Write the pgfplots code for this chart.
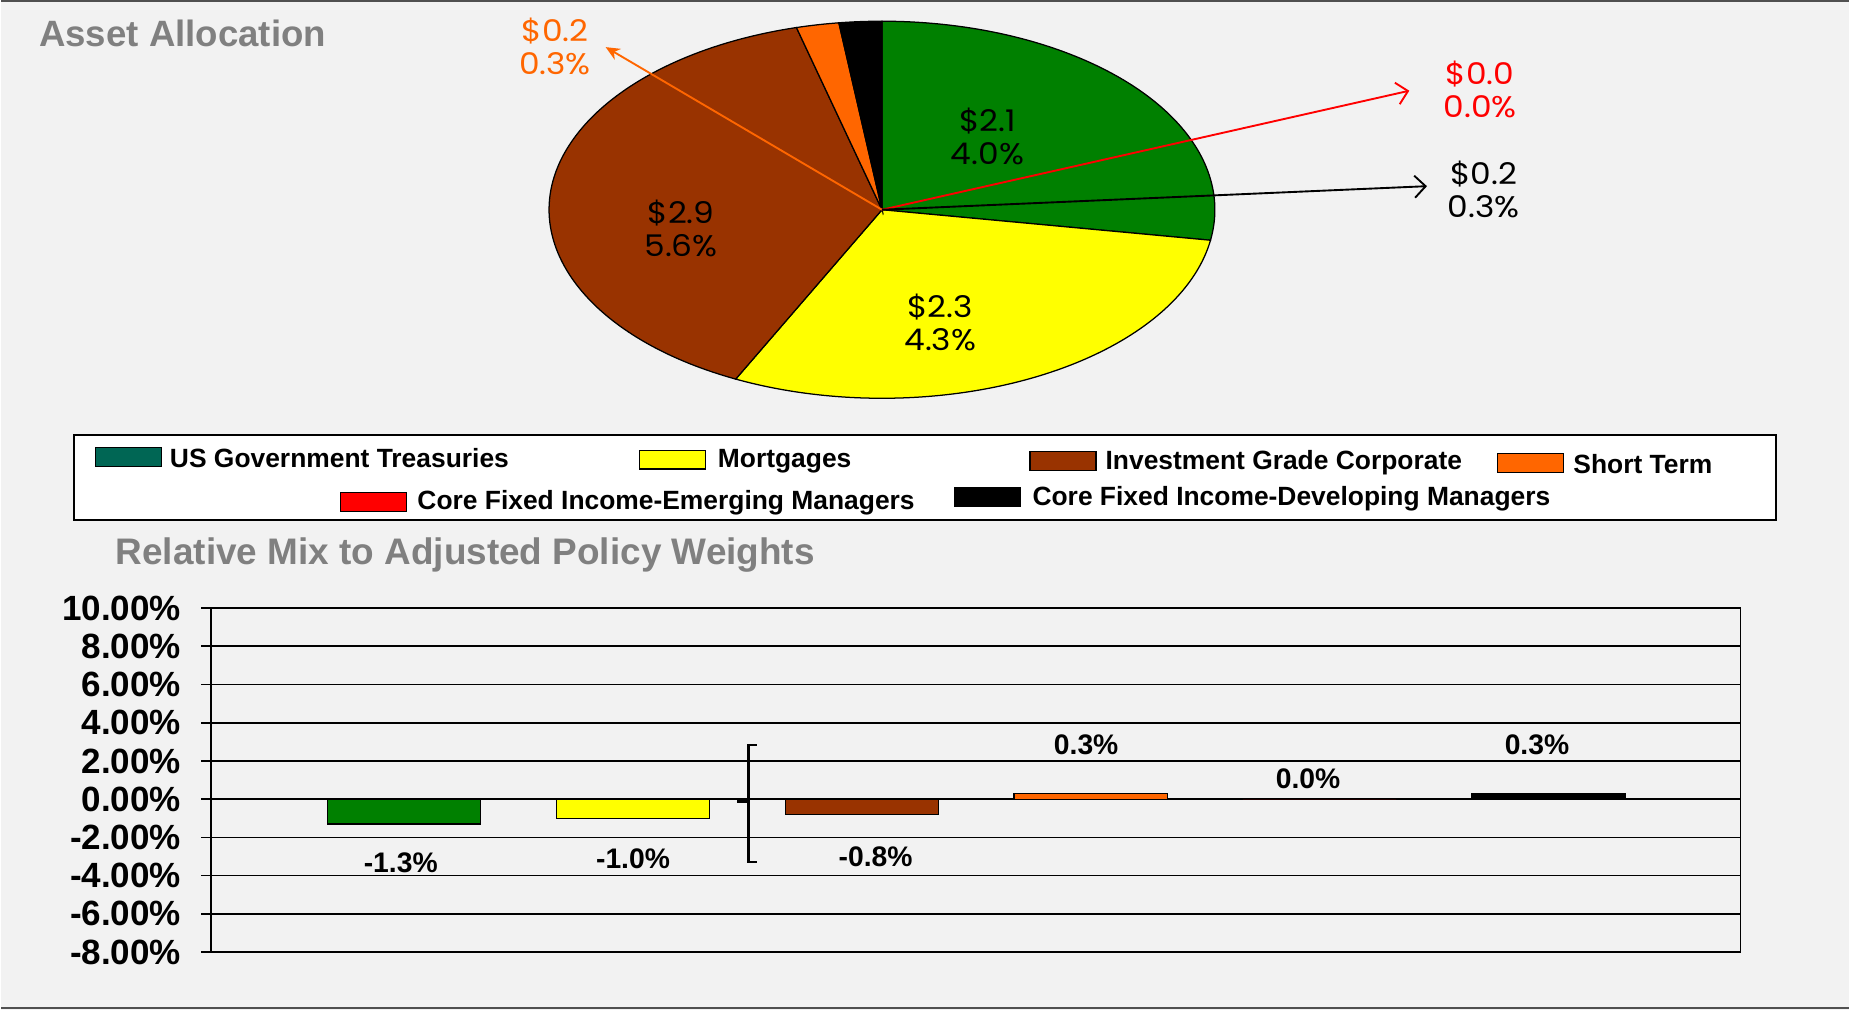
\documentclass[border=0pt]{standalone}
\usepackage{pgfplots}
\pgfplotsset{compat=1.18}
\usepackage{fontspec}
\setmainfont{Liberation Sans}
\newfontfamily\pief{Poppins}[FakeStretch=1.1]
\usetikzlibrary{arrows.meta}
\definecolor{bgc}{RGB}{242,242,242}
\definecolor{cgreen}{RGB}{0,128,0}
\definecolor{cyellow}{RGB}{255,255,0}
\definecolor{cbrown}{RGB}{153,51,0}
\definecolor{corange}{RGB}{255,102,0}
\definecolor{cred}{RGB}{255,0,0}
\definecolor{cteal}{RGB}{0,102,84}
\definecolor{tgray}{RGB}{128,128,128}
\definecolor{frame}{RGB}{80,80,80}

\begin{document}
\begin{tikzpicture}
% pie values (percent of plan)
\pgfmathsetmacro\vA{4.0}
\pgfmathsetmacro\vB{4.3}
\pgfmathsetmacro\vC{5.6}
\pgfmathsetmacro\vD{0.3}
\pgfmathsetmacro\vE{0.0}
\pgfmathsetmacro\vF{0.3}
\pgfmathsetmacro\tot{\vA+\vB+\vC+\vD+\vE+\vF}
\pgfmathsetmacro\aA{90}
\pgfmathsetmacro\aB{\aA-360*\vA/\tot}
\pgfmathsetmacro\aC{\aB-360*\vB/\tot}
\pgfmathsetmacro\aD{\aC-360*\vC/\tot}
\pgfmathsetmacro\aE{\aD-360*\vD/\tot}
\pgfmathsetmacro\aF{\aE-360*\vE/\tot}
\pgfmathsetmacro\aG{\aF-360*\vF/\tot}

\begin{scope}[x=0.75pt,y=-0.75pt]
\fill[bgc] (0,0) rectangle (1568,857);
\draw[frame, line width=1.5pt] (0,1) -- (1568,1);
\draw[frame, line width=1.5pt] (0,855.5) -- (1568,855.5);
\node[anchor=west, text=tgray, font=\fontsize{23.3}{25}\selectfont\bfseries, inner sep=0pt] at (32,28) {Asset Allocation};
\node[anchor=west, text=tgray, font=\fontsize{23.5}{25}\selectfont\bfseries, inner sep=0pt] at (97,471) {Relative Mix to Adjusted Policy Weights};
% legend
\draw[fill=white, draw=black, line width=1.2pt] (62,369) rectangle (1506,441);
\begin{scope}[every node/.style={anchor=west, inner sep=0pt, font=\fontsize{16.8}{18}\selectfont\bfseries}]
\draw[fill=cteal, draw=black, line width=0.8pt] (80,380) rectangle (136,396);
\node at (143,389) {US Government Treasuries};
\draw[fill=cyellow, draw=black, line width=0.8pt] (542,382) rectangle (598,398);
\node at (608,391) {Mortgages};
\draw[fill=cbrown, draw=black, line width=0.8pt] (873,383) rectangle (929,399);
\node at (937,393) {Investment Grade Corporate};
\draw[fill=corange, draw=black, line width=0.8pt] (1270,385) rectangle (1326,401);
\node at (1334,394) {Short Term};
\draw[fill=cred, draw=black, line width=0.8pt] (288,418) rectangle (344,434);
\node at (353,427) {Core Fixed Income-Emerging Managers};
\draw[fill=black, draw=black, line width=0.8pt] (809,414) rectangle (865,430);
\node at (875,423) {Core Fixed Income-Developing Managers};
\end{scope}
\end{scope}

% pie chart axis (axis units = displayed pixels, y upward)
\begin{axis}[at={(0pt,-642.75pt)}, anchor=south west, width=1176pt, height=642.75pt,
  scale only axis, xmin=0, xmax=1568, ymin=0, ymax=857, hide axis, clip=false]
\def\cx{747.5}\def\cy{679}\def\rx{282.5}\def\ry{160}
\filldraw[fill=cgreen, draw=black, line width=0.8pt] (axis cs:\cx,\cy) -- (axis cs:{\cx+\rx*cos(\aA)},{\cy+\ry*sin(\aA)}) arc[start angle=\aA, end angle=\aB, x radius=211.875pt, y radius=120pt] -- cycle;
\filldraw[fill=cyellow, draw=black, line width=0.8pt] (axis cs:\cx,\cy) -- (axis cs:{\cx+\rx*cos(\aB)},{\cy+\ry*sin(\aB)}) arc[start angle=\aB, end angle=\aC, x radius=211.875pt, y radius=120pt] -- cycle;
\filldraw[fill=cbrown, draw=black, line width=0.8pt] (axis cs:\cx,\cy) -- (axis cs:{\cx+\rx*cos(\aC)},{\cy+\ry*sin(\aC)}) arc[start angle=\aC, end angle=\aD, x radius=211.875pt, y radius=120pt] -- cycle;
\filldraw[fill=corange, draw=black, line width=0.8pt] (axis cs:\cx,\cy) -- (axis cs:{\cx+\rx*cos(\aD)},{\cy+\ry*sin(\aD)}) arc[start angle=\aD, end angle=\aE, x radius=211.875pt, y radius=120pt] -- cycle;
\filldraw[fill=black, draw=black, line width=0.8pt] (axis cs:\cx,\cy) -- (axis cs:{\cx+\rx*cos(\aF)},{\cy+\ry*sin(\aF)}) arc[start angle=\aF, end angle=\aG, x radius=211.875pt, y radius=120pt] -- cycle;
% leader lines
\draw[corange, line width=1.2pt, -{Stealth[length=9pt,width=8pt]}] (axis cs:\cx,\cy) -- (axis cs:513,817);
\draw[cred, line width=1.2pt, -{Straight Barb[length=7pt,width=14pt]}] (axis cs:\cx,\cy) -- (axis cs:1195,780);
\draw[black, line width=1.2pt, -{Straight Barb[length=7pt,width=14pt]}] (axis cs:\cx,\cy) -- (axis cs:1210,699);
% labels
\begin{scope}[every node/.style={align=center, inner sep=0pt, font=\pief\fontsize{19}{21}\selectfont}]
\node at (axis cs:837,741) {\$2.1\\4.0\%};
\node at (axis cs:577,663) {\$2.9\\5.6\%};
\node at (axis cs:797,583) {\$2.3\\4.3\%};
\node[text=corange] at (axis cs:470,818) {\$0.2\\0.3\%};
\node[text=cred] at (axis cs:1255,781) {\$0.0\\0.0\%};
\node at (axis cs:1258,696) {\$0.2\\0.3\%};
\end{scope}
\end{axis}

% bar chart
\begin{axis}[at={(133.5pt,-606pt)}, anchor=south west, width=973.5pt, height=219pt,
  scale only axis, xmin=-0.8445, xmax=5.839, ymin=-8, ymax=10,
  ytick={-8,-6,-4,-2,0,2,4,6,8,10},
  yticklabels={-8.00\%,-6.00\%,-4.00\%,-2.00\%,0.00\%,2.00\%,4.00\%,6.00\%,8.00\%,10.00\%},
  xtick=\empty, ytick pos=left, ymajorgrids,
  grid style={black, line width=1pt},
  axis line style={black, line width=1pt},
  tick align=outside, major tick length=6pt, tick style={black, line width=1pt},
  yticklabel style={font=\fontsize{22.3}{22}\selectfont\bfseries, xshift=-9.5pt},
  clip=false]
\addplot[ybar, bar width=0.67, bar shift=0pt, fill=cgreen, draw=black, line width=0.8pt] coordinates {(0,-1.3)};
\addplot[ybar, bar width=0.67, bar shift=0pt, fill=cyellow, draw=black, line width=0.8pt] coordinates {(1,-1.0)};
\addplot[ybar, bar width=0.67, bar shift=0pt, fill=cbrown, draw=black, line width=0.8pt] coordinates {(2,-0.8)};
\addplot[ybar, bar width=0.67, bar shift=0pt, fill=corange, draw=black, line width=0.8pt] coordinates {(3,0.3)};
\addplot[ybar, bar width=0.67, bar shift=0pt, fill=cred, draw=none] coordinates {(4,0.0)};
\addplot[ybar, bar width=0.67, bar shift=0pt, fill=black, draw=black, line width=0.8pt] coordinates {(5,0.3)};
\begin{scope}[every node/.style={inner sep=0pt, font=\fontsize{18}{18}\selectfont\bfseries}]
\node at (axis cs:-0.015,-3.32) {-1.3\%};
\node at (axis cs:1.0,-3.14) {-1.0\%};
\node at (axis cs:2.06,-3.0) {-0.8\%};
\node at (axis cs:2.98,2.83) {0.3\%};
\node at (axis cs:3.95,1.05) {0.0\%};
\node at (axis cs:4.95,2.83) {0.3\%};
\end{scope}
\draw[black, line width=1.5pt] (axis cs:1.54,2.83) -- (axis cs:1.504,2.83) -- (axis cs:1.504,-3.27) -- (axis cs:1.54,-3.27);
\draw[black, line width=2.5pt] (axis cs:1.455,-0.1) -- (axis cs:1.504,-0.1);
\end{axis}
\end{tikzpicture}
\end{document}
